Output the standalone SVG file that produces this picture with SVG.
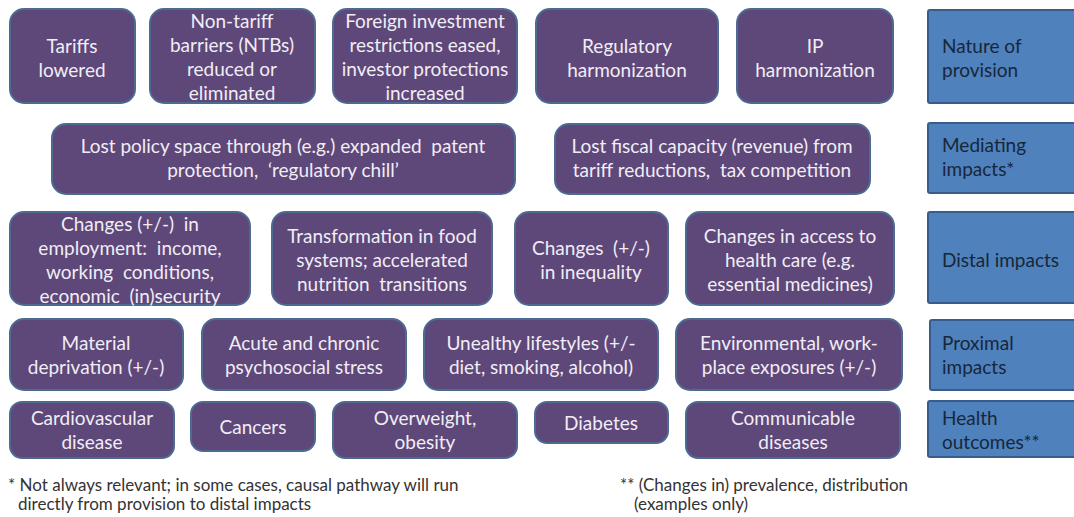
<svg xmlns="http://www.w3.org/2000/svg" width="1074" height="517" viewBox="0 0 1074 517">
<style>
text{white-space:pre}
.n rect{fill:#5e4779;stroke:#4d6a93;stroke-width:2}
.n text{fill:#f1edf5;font-family:Lato,"Open Sans",sans-serif;font-size:19px;text-anchor:middle}
.l rect{fill:#4f81bd;stroke:#385d8a;stroke-width:2}
.l text{fill:#17273a;font-family:Lato,"Open Sans",sans-serif;font-size:19px}
.f{fill:#333;font-family:Lato,"Open Sans",sans-serif;font-size:17px}
</style>
<rect width="1074" height="517" fill="#fff"/>
<g id="connectors"/>
<!-- Row 1 -->
<g id="tariffs" class="n"><rect x="10" y="9" width="125" height="94" rx="14"/><text x="72" y="53">Tariffs</text><text x="72" y="77">lowered</text></g>
<g id="ntb" class="n"><rect x="150" y="9" width="165" height="94" rx="14"/><text x="232" y="28">Non-tariff</text><text x="232" y="52">barriers (NTBs)</text><text x="232" y="76">reduced or</text><text x="232" y="100">eliminated</text></g>
<g id="foreign" class="n"><rect x="333" y="9" width="184" height="94" rx="14"/><text x="425" y="28">Foreign investment</text><text x="425" y="52">restrictions eased,</text><text x="425" y="76">investor protections</text><text x="425" y="100">increased</text></g>
<g id="regulatory" class="n"><rect x="536" y="9" width="182" height="94" rx="14"/><text x="627" y="53">Regulatory</text><text x="627" y="77">harmonization</text></g>
<g id="ip" class="n"><rect x="737" y="9" width="156" height="94" rx="14"/><text x="815" y="53">IP</text><text x="815" y="77">harmonization</text></g>
<g id="nature" class="l"><rect x="928" y="10" width="150" height="93" rx="2"/><text x="942" y="53">Nature of</text><text x="942" y="77">provision</text></g>
<!-- Row 2 -->
<g id="policy" class="n"><rect x="52" y="124" width="463" height="70" rx="14"/><text x="283" y="153">Lost policy space through (e.g.) expanded  patent</text><text x="283" y="177">protection,  ‘regulatory chill’</text></g>
<g id="fiscal" class="n"><rect x="555" y="124" width="315" height="70" rx="14"/><text x="712" y="153">Lost fiscal capacity (revenue) from</text><text x="712" y="177">tariff reductions,  tax competition</text></g>
<g id="mediating" class="l"><rect x="928" y="123" width="150" height="70" rx="2"/><text x="942" y="152">Mediating</text><text x="942" y="176">impacts*</text></g>
<!-- Row 3 -->
<g id="employment" class="n"><rect x="10" y="212" width="240" height="93" rx="14"/><text x="130" y="231">Changes (+/-)  in</text><text x="130" y="255">employment:  income,</text><text x="130" y="279">working  conditions,</text><text x="130" y="303">economic  (in)security</text></g>
<g id="food" class="n"><rect x="272" y="212" width="220" height="93" rx="14"/><text x="382" y="243">Transformation in food</text><text x="382" y="267">systems; accelerated</text><text x="382" y="291">nutrition  transitions</text></g>
<g id="inequality" class="n"><rect x="515" y="212" width="153" height="93" rx="14"/><text x="591" y="255">Changes  (+/-)</text><text x="591" y="279">in inequality</text></g>
<g id="access" class="n"><rect x="686" y="212" width="208" height="93" rx="14"/><text x="790" y="243">Changes in access to</text><text x="790" y="267">health care (e.g.</text><text x="790" y="291">essential medicines)</text></g>
<g id="distal" class="l"><rect x="928" y="212" width="150" height="91" rx="2"/><text x="942" y="267">Distal impacts</text></g>
<!-- Row 4 -->
<g id="material" class="n"><rect x="10" y="319" width="173" height="71" rx="14"/><text x="96" y="350">Material</text><text x="96" y="374">deprivation (+/-)</text></g>
<g id="stress" class="n"><rect x="202" y="319" width="204" height="71" rx="14"/><text x="304" y="350">Acute and chronic</text><text x="304" y="374">psychosocial stress</text></g>
<g id="lifestyles" class="n"><rect x="424" y="319" width="234" height="71" rx="14"/><text x="541" y="350">Unealthy lifestyles (+/-</text><text x="541" y="374">diet, smoking, alcohol)</text></g>
<g id="environment" class="n"><rect x="676" y="319" width="226" height="71" rx="14"/><text x="789" y="350">Environmental, work-</text><text x="789" y="374">place exposures (+/-)</text></g>
<g id="proximal" class="l"><rect x="930" y="320" width="148" height="70" rx="2"/><text x="942" y="350">Proximal</text><text x="942" y="374">impacts</text></g>
<!-- Row 5 -->
<g id="cardio" class="n"><rect x="10" y="402" width="164" height="56" rx="12"/><text x="92" y="425">Cardiovascular</text><text x="92" y="449">disease</text></g>
<g id="cancers" class="n"><rect x="191" y="402" width="124" height="49" rx="12"/><text x="253" y="434">Cancers</text></g>
<g id="overweight" class="n"><rect x="333" y="402" width="184" height="56" rx="12"/><text x="425" y="425">Overweight,</text><text x="425" y="449">obesity</text></g>
<g id="diabetes" class="n"><rect x="535" y="402" width="133" height="41" rx="12"/><text x="601" y="430">Diabetes</text></g>
<g id="communicable" class="n"><rect x="686" y="402" width="214" height="56" rx="12"/><text x="793" y="425">Communicable</text><text x="793" y="449">diseases</text></g>
<g id="outcomes" class="l"><rect x="928" y="401" width="150" height="56" rx="2"/><text x="942" y="425">Health</text><text x="942" y="449">outcomes**</text></g>
<!-- Footnotes -->
<g id="footnotes">
<text class="f" x="8" y="491">* Not always relevant; in some cases, causal pathway will run</text>
<text class="f" x="18" y="510">directly from provision to distal impacts</text>
<text class="f" x="620" y="491">** (Changes in) prevalence, distribution</text>
<text class="f" x="634" y="510">(examples only)</text>
</g>
</svg>
